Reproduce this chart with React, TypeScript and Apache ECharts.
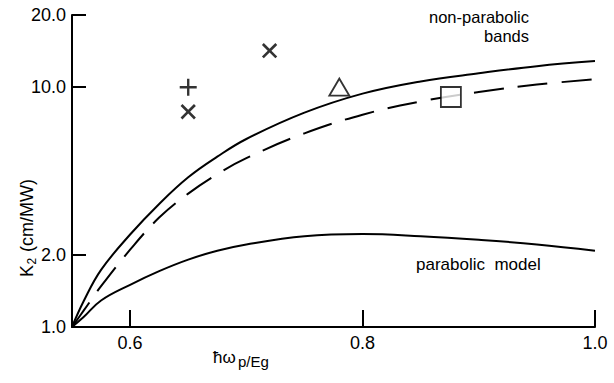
import React, { useEffect, useRef } from "react";
import * as echarts from "echarts";

// x: ħωp/Eg
const xValues = [0.55, 0.56, 0.575, 0.6, 0.625, 0.65, 0.675, 0.7, 0.75, 0.8, 0.85, 0.9, 0.95, 1.0];
// K2 (cm/MW)
const nonParabolicSolid = [1.0, 1.28, 1.73, 2.43, 3.26, 4.21, 5.13, 6.08, 7.83, 9.4, 10.57, 11.43, 12.24, 12.85];
const nonParabolicDashed = [1.0, 1.17, 1.48, 2.1, 2.86, 3.6, 4.34, 5.06, 6.42, 7.68, 8.72, 9.55, 10.25, 10.8];
const parabolicModel = [1.0, 1.1, 1.29, 1.5, 1.71, 1.91, 2.08, 2.21, 2.39, 2.44, 2.39, 2.31, 2.21, 2.08];

// experimental points [x, K2]
const crossPoints = [[0.65, 7.9], [0.72, 14.2]];
const plusPoints = [[0.65, 10.0]];
const trianglePoints = [[0.78, 10.0]];
const squarePoints = [[0.876, 9.1]];

const xTickValues = [0.6, 0.8, 1.0];
const yTickValues = [1, 2, 10, 20];

const FONT = "'Liberation Sans', Arial, Helvetica, sans-serif";
const lg = (v: number) => Math.log10(v);

const PLUS_PATH = "path://M8.6,0H11.4V8.6H20V11.4H11.4V20H8.6V11.4H0V8.6H8.6Z";

function lineData(vals: number[]) {
  return xValues.map((x, i) => [x, lg(vals[i])]);
}
function ptData(pts: number[][]) {
  return pts.map((p) => [p[0], lg(p[1])]);
}

export default function App() {
  const ref = useRef<HTMLDivElement>(null);
  useEffect(() => {
    if (!ref.current) return;
    const chart = echarts.init(ref.current, null, { renderer: "svg" });
    const lineBase = { type: "line", symbol: "none", showSymbol: false, smooth: 0.4, silent: true, z: 2 };
    chart.setOption({
      animation: false,
      backgroundColor: "#fff",
      grid: { left: 72, right: 19, top: 15, bottom: 56 },
      xAxis: {
        type: "value",
        min: 0.55,
        max: 1.0,
        axisLine: { show: true, onZero: false, lineStyle: { color: "#000", width: 2 } },
        axisTick: { show: true, inside: true, length: 17, customValues: xTickValues, lineStyle: { color: "#000", width: 2 } },
        axisLabel: {
          customValues: xTickValues,
          formatter: (v: number) => v.toFixed(1),
          color: "#000",
          fontSize: 18,
          fontFamily: FONT,
          margin: 7,
        },
        splitLine: { show: false },
      },
      yAxis: {
        type: "value",
        min: 0,
        max: lg(20),
        axisLine: { show: true, onZero: false, lineStyle: { color: "#000", width: 2 } },
        axisTick: { show: true, inside: true, length: 14, customValues: yTickValues.map(lg), lineStyle: { color: "#000", width: 2 } },
        axisLabel: {
          customValues: yTickValues.map(lg),
          formatter: (v: number) => Math.pow(10, v).toFixed(1),
          color: "#000",
          fontSize: 18,
          fontFamily: FONT,
          margin: 6,
        },
        splitLine: { show: false },
      },
      series: [
        { ...lineBase, name: "non-parabolic", data: lineData(nonParabolicSolid), lineStyle: { color: "#000", width: 2 } },
        { ...lineBase, name: "non-parabolic dashed", data: lineData(nonParabolicDashed), lineStyle: { color: "#000", width: 2, type: [30, 14] } },
        { ...lineBase, name: "parabolic model", data: lineData(parabolicModel), lineStyle: { color: "#000", width: 2 } },
        {
          type: "scatter", name: "x", data: ptData(crossPoints), symbol: PLUS_PATH, symbolSize: 19, symbolRotate: 45,
          itemStyle: { color: "#000" }, z: 5,
        },
        {
          type: "scatter", name: "+", data: ptData(plusPoints), symbol: PLUS_PATH, symbolSize: 17,
          itemStyle: { color: "#000" }, z: 5,
        },
        {
          type: "scatter", name: "triangle", data: ptData(trianglePoints), symbol: "triangle", symbolSize: [20, 17],
          itemStyle: { color: "#fff", borderColor: "#000", borderWidth: 1.8 }, z: 5,
        },
        {
          type: "scatter", name: "square", data: ptData(squarePoints), symbol: "rect", symbolSize: 20,
          itemStyle: { color: "#fff", borderColor: "#000", borderWidth: 1.8 }, z: 5,
        },
      ],
      graphic: [
        {
          type: "text", x: 529, y: 7.5,
          style: { text: "non-parabolic\nbands", fill: "#000", fontSize: 16.5, lineHeight: 19, fontFamily: FONT, align: "right", verticalAlign: "top" },
        },
        { type: "text", x: 416, y: 264, style: { text: "parabolic  model", fill: "#000", fontSize: 17, fontFamily: FONT, align: "left", verticalAlign: "middle" } },
        { type: "text", x: 213, y: 357.5, style: { text: "ħω", fill: "#000", fontSize: 17, fontFamily: FONT, align: "left", verticalAlign: "middle" } },
        { type: "text", x: 238, y: 361.5, style: { text: "p/Eg", fill: "#000", fontSize: 15, fontFamily: FONT, align: "left", verticalAlign: "middle" } },
        {
          type: "group",
          x: 33,
          y: 277,
          rotation: Math.PI / 2,
          children: [
            { type: "text", x: 0, y: -6, style: { text: "K", fill: "#000", fontSize: 18, fontFamily: FONT, align: "left", verticalAlign: "middle" } },
            { type: "text", x: 12.5, y: -1.5, style: { text: "2", fill: "#000", fontSize: 12, fontFamily: FONT, align: "left", verticalAlign: "middle" } },
            { type: "text", x: 25, y: -6, style: { text: "(cm/MW)", fill: "#000", fontSize: 18, fontFamily: FONT, align: "left", verticalAlign: "middle" } },
          ],
        },
      ],
    });
    return () => chart.dispose();
  }, []);
  return <div ref={ref} style={{ position: "fixed", left: 0, top: 0, width: 614, height: 383 }} />;
}
